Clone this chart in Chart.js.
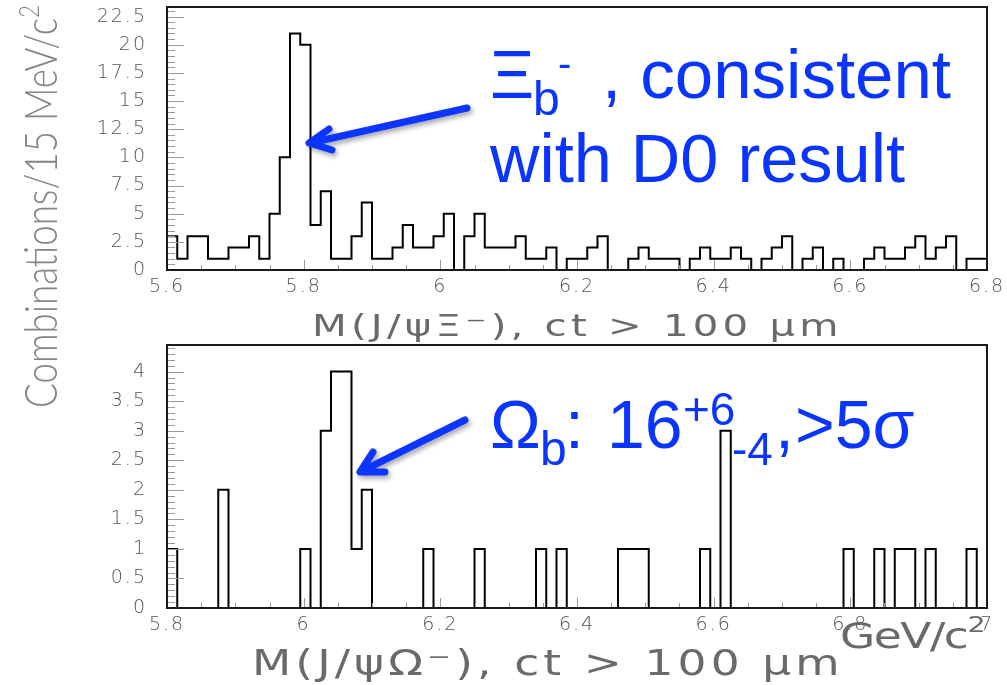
<!DOCTYPE html>
<html>
<head>
<meta charset="utf-8">
<script src="https://cdn.jsdelivr.net/npm/chart.js@4.4.0/dist/chart.umd.min.js"></script>
<style>
  html, body { margin: 0; padding: 0; background: #fff; }
  #wrap { position: relative; width: 1007px; height: 685px; overflow: hidden; background: #fff; }
  canvas { position: absolute; left: 0; }
  #xiCanvas { top: 0; }
  #omegaCanvas { top: 338px; }
  svg { position: absolute; left: 0; top: 0; }
</style>
</head>
<body>
<div id="wrap">
  <canvas id="xiCanvas" width="1007" height="345"></canvas>
  <canvas id="omegaCanvas" width="1007" height="347"></canvas>
  <svg width="1007" height="685" xmlns="http://www.w3.org/2000/svg">
    <defs>
      <filter id="shadow" x="-20%" y="-40%" width="140%" height="180%">
        <feDropShadow dx="2" dy="3" stdDeviation="2.5" flood-color="#000" flood-opacity="0.35"/>
      </filter>
    </defs>

    <!-- shared y-axis title -->
    <text transform="translate(57,408) rotate(-90)" textLength="403" lengthAdjust="spacingAndGlyphs"
          font-family="Lato, Liberation Sans, sans-serif" font-weight="300" font-size="46" fill="#858585">Combinations/15 MeV/c<tspan font-size="28" dy="-18">2</tspan></text>

    <!-- x-axis titles -->
    <g font-family="DejaVu Sans, sans-serif" fill="#6a6a6a">
      <text transform="translate(312 336) scale(1.3 1)" textLength="405" lengthAdjust="spacing"
            font-size="31">M(J/ψΞ⁻), ct &gt; 100 μm</text>
      <text transform="translate(252 675) scale(1.3 1)" textLength="452" lengthAdjust="spacing"
            font-size="35">M(J/ψΩ⁻), ct &gt; 100 μm</text>
      <text transform="translate(840 648) scale(1.3 1)" textLength="112" lengthAdjust="spacing"
            font-size="35">GeV/c<tspan font-size="22" dy="-16">2</tspan></text>
    </g>

    <!-- annotations -->
    <g font-family="Liberation Sans, Arial, sans-serif" fill="#0a35ff">
      <text x="490" y="98" font-size="68">Ξ</text>
      <text x="533" y="115" font-size="48">b</text>
      <text x="558" y="77" font-size="40">-</text>
      <text x="602" y="98" font-size="69">, consistent</text>
      <text x="490" y="182" font-size="68.5">with D0 result</text>

      <text x="490" y="448" font-size="68">Ω</text>
      <text x="540" y="465" font-size="48">b</text>
      <text x="565" y="448" font-size="68">:</text>
      <text x="607" y="448" font-size="68">16</text>
      <text x="683" y="425" font-size="46">+6</text>
      <text x="732" y="465" font-size="46">-4</text>
      <text x="775" y="448" font-size="68">,</text>
      <text x="795" y="448" font-size="68">&gt;5σ</text>
    </g>
    <g stroke="#0a35ff" stroke-width="7" stroke-linecap="round" stroke-linejoin="round" fill="none" filter="url(#shadow)">
      <path d="M467,108 L310,143 M329,129 L309,143 L332,150"/>
      <path d="M465,420 L362,471 M373,452 L360,472 L385,472"/>
    </g>
  </svg>
</div>

<script>
// Bin width of both mass histograms: 15 MeV/c^2
const BIN_WIDTH = 0.015;

// J/psi Xi- candidates, 5.6 - 6.8 GeV/c^2
const xiMassRange = [5.6, 6.8];
const xiCounts = [
  3, 1, 3, 3, 1, 1, 2, 2, 3, 1,
  5, 10, 21, 20, 4, 7, 1, 1, 3, 6,
  1, 1, 2, 4, 2, 2, 3, 5, 0, 3,
  5, 2, 2, 2, 3, 1, 1, 2, 0, 1,
  1, 2, 3, 0, 0, 1, 2, 1, 1, 1,
  0, 1, 2, 1, 1, 2, 1, 0, 1, 2,
  3, 0, 1, 2, 0, 1, 0, 0, 1, 2,
  1, 1, 2, 3, 1, 2, 3, 0, 1, 1
];
const xiYMax = 23.35;
const xiXTickLabels = ['5.6', '5.8', '6', '6.2', '6.4', '6.6', '6.8'];
const xiYTickLabels = ['0', '2.5', '5', '7.5', '10', '12.5', '15', '17.5', '20', '22.5'];

// J/psi Omega- candidates, 5.8 - 7.0 GeV/c^2
const omegaMassRange = [5.8, 7.0];
const omegaCounts = [
  1, 0, 0, 0, 0, 2, 0, 0, 0, 0,
  0, 0, 0, 1, 0, 3, 4, 4, 1, 2,
  0, 0, 0, 0, 0, 1, 0, 0, 0, 0,
  1, 0, 0, 0, 0, 0, 1, 0, 1, 0,
  0, 0, 0, 0, 1, 1, 1, 0, 0, 0,
  0, 0, 1, 0, 3, 0, 0, 0, 0, 0,
  0, 0, 0, 0, 0, 0, 1, 0, 0, 1,
  0, 1, 1, 0, 1, 0, 0, 0, 1, 0
];
const omegaYMax = 4.45;
const omegaXTickLabels = ['5.8', '6', '6.2', '6.4', '6.6', '6.8', '7'];
const omegaYTickLabels = ['0', '0.5', '1', '1.5', '2', '2.5', '3', '3.5', '4'];

// secondary tick spacing on each axis
const xMinorStep = 0.05;
const xiYMinorStep = 0.5;
const omegaYMinorStep = 0.1;

Chart.defaults.font.family = 'DejaVu Sans, sans-serif';

// histogram outline for a 'before'-stepped line: each point sits on a bin's
// low edge and its count is held until the next edge; the outline closes at the top edge
function histogramPoints(counts, low) {
  const pts = counts.map((c, i) => ({ x: low + i * BIN_WIDTH, y: c }));
  pts.push({ x: low + counts.length * BIN_WIDTH, y: 0 });
  return pts;
}

function labelFor(labels, value) {
  const hit = labels.find(l => Math.abs(parseFloat(l) - value) < 1e-6);
  return hit === undefined ? '' : hit;
}

function tickList(min, max, step, labels) {
  const out = [];
  const start = Math.ceil(min / step - 1e-9);
  for (let k = start; k * step <= max + 1e-9; k++) {
    const v = Math.round(k * step * 1e6) / 1e6;
    out.push({ value: v, labelled: labelFor(labels, v) !== '' });
  }
  return out;
}

// frame and inward ticks in the style of a ROOT canvas
const rootFrame = {
  id: 'rootFrame',
  beforeDraw(chart) { chart.ctx.letterSpacing = '2px'; },
  afterDatasetsDraw(chart) {
    const { ctx, chartArea: a, scales: { x, y } } = chart;
    ctx.save();
    ctx.strokeStyle = '#9a9a9a';
    ctx.lineWidth = 1;
    ctx.beginPath();
    x.ticks.forEach(t => {
      const px = Math.round(x.getPixelForValue(t.value)) + 0.5;
      const len = t.labelled ? 10 : 5;
      ctx.moveTo(px, a.bottom);
      ctx.lineTo(px, a.bottom - len);
    });
    y.ticks.forEach(t => {
      const py = Math.round(y.getPixelForValue(t.value)) + 0.5;
      const len = t.labelled ? 17 : 8;
      ctx.moveTo(a.left, py);
      ctx.lineTo(a.left + len, py);
    });
    ctx.stroke();
    ctx.strokeStyle = '#1a1a1a';
    ctx.lineWidth = 2;
    ctx.strokeRect(a.left, a.top, a.right - a.left, a.bottom - a.top);
    ctx.restore();
  },
  afterDraw(chart) { chart.ctx.letterSpacing = '0px'; }
};

function makeHistogram(canvasId, counts, range, yMax, xLabels, yLabels, yMinorStep, xAxisHeight) {
  const tickFont = { family: 'DejaVu Sans, sans-serif', size: 19, weight: '200' };
  return new Chart(document.getElementById(canvasId), {
    type: 'line',
    data: {
      datasets: [{
        data: histogramPoints(counts, range[0]),
        stepped: 'before',
        borderColor: '#000',
        borderWidth: 2,
        pointRadius: 0,
        fill: false,
        borderJoinStyle: 'miter'
      }]
    },
    options: {
      responsive: false,
      animation: false,
      devicePixelRatio: 1,
      events: [],
      layout: { padding: { top: 7, right: 20, left: 0, bottom: 0 } },
      plugins: { legend: { display: false }, tooltip: { enabled: false } },
      scales: {
        x: {
          type: 'linear',
          min: range[0],
          max: range[1],
          grid: { display: false, drawTicks: false },
          border: { display: false },
          afterBuildTicks: s => { s.ticks = tickList(range[0], range[1], xMinorStep, xLabels); },
          afterFit: s => { s.height = xAxisHeight; s.paddingLeft = 0; s.paddingRight = 0; },
          ticks: {
            autoSkip: false,
            maxRotation: 0,
            padding: 6,
            color: '#555',
            font: tickFont,
            callback: v => labelFor(xLabels, v)
          }
        },
        y: {
          type: 'linear',
          min: 0,
          max: yMax,
          grid: { display: false, drawTicks: false },
          border: { display: false },
          afterBuildTicks: s => { s.ticks = tickList(0, yMax, yMinorStep, yLabels); },
          afterFit: s => { s.width = 167; s.paddingTop = 0; s.paddingBottom = 0; },
          ticks: {
            autoSkip: false,
            padding: 20,
            color: '#555',
            font: tickFont,
            callback: v => labelFor(yLabels, v)
          }
        }
      }
    },
    plugins: [rootFrame]
  });
}

makeHistogram('xiCanvas', xiCounts, xiMassRange, xiYMax, xiXTickLabels, xiYTickLabels, xiYMinorStep, 345 - 270);
makeHistogram('omegaCanvas', omegaCounts, omegaMassRange, omegaYMax, omegaXTickLabels, omegaYTickLabels, omegaYMinorStep, 347 - 270);
</script>
</body>
</html>
